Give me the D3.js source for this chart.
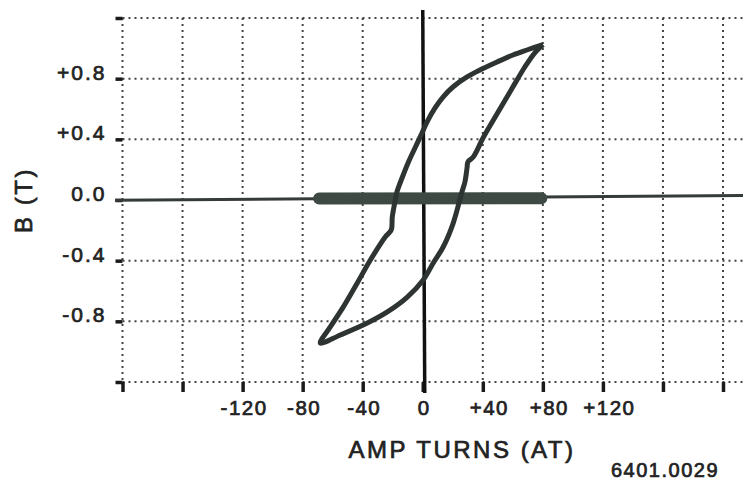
<!DOCTYPE html>
<html>
<head>
<meta charset="utf-8">
<script src="https://cdn.jsdelivr.net/npm/d3@7"></script>
<style>
  body { margin: 0; background: #fff; }
  svg { display: block; }
  text { font-family: "Liberation Sans", Arial, Helvetica, sans-serif; }
</style>
</head>
<body>
<div id="chart"></div>
<script>
// hysteresis loop (AT, tesla)
var upperAT = [80.1, 69.4, 60.1, 49.5, 38.1, 29.5, 20.1, 13.5, 8.2, 2.8, -0.5, -5.2, -9.8, -13.8, -17.2, -18.3, -20.3, -21.0, -25.0, -34.9, -43.6, -52.9, -61.6, -68.2];
var upperB  = [1.025, 0.989, 0.956, 0.910, 0.857, 0.811, 0.745, 0.679, 0.607, 0.514, 0.442, 0.343, 0.244, 0.145, 0.053, 0.0, -0.112, -0.198, -0.244, -0.396, -0.547, -0.705, -0.837, -0.943];
var lowerAT = [-68.2, -54.9, -36.9, -23.6, -10.3, 0.3, 7.0, 13.6, 20.3, 26.1, 28.1, 29.5, 30.1, 33.6, 40.5, 51.0, 60.0, 68.0, 74.5, 80.1];
var lowerB  = [-0.943, -0.890, -0.811, -0.738, -0.640, -0.527, -0.415, -0.310, -0.152, 0.053, 0.119, 0.211, 0.251, 0.283, 0.415, 0.593, 0.745, 0.877, 0.969, 1.025];

// flat trace along B = 0 (thin full width, heavy band in the middle)
var traceAT = [-205, 214];
var traceB  = [-0.002, 0.03];
var bandAT  = [-69, 79];
var bandB   = [0.01, 0.012];

var xTicks = [-200, -160, -120, -80, -40, 0, 40, 80, 120, 160, 200];
var xTickLabels = ["", "", "-120", "-80", "-40", "0", "+40", "+80", "+120", "", ""];
var yTicks = [-1.2, -0.8, -0.4, 0, 0.4, 0.8, 1.2];
var yTickLabels = ["", "-0.8", "-0.4", "0.0", "+0.4", "+0.8", ""];

var width = 743, height = 482;
var ink = "#222";

var svg = d3.select("#chart").append("svg")
    .attr("width", width)
    .attr("height", height);

var x = d3.scaleLinear().domain([-200, 200]).range([122.5, 723]);
var y = d3.scaleLinear().domain([-1.2, 1.2]).range([382, 18]);

// scanned type is a bit heavier than regular Helvetica
function heavy(sel, size, spacing) {
    sel.style("font-size", size + "px")
        .style("letter-spacing", spacing + "px")
        .attr("fill", ink)
        .attr("stroke", ink)
        .attr("stroke-width", 0.7);
}

// dotted grid
svg.append("g").selectAll("line")
    .data(xTicks.filter(function (d) { return d !== 0; }))
    .enter().append("line")
    .attr("x1", function (d) { return x(d); })
    .attr("x2", function (d) { return x(d); })
    .attr("y1", y(1.2))
    .attr("y2", y(-1.2))
    .attr("stroke", "#444")
    .attr("stroke-width", 2)
    .attr("stroke-dasharray", "2,4");

svg.append("g").selectAll("line")
    .data(yTicks.filter(function (d) { return d !== 0; }))
    .enter().append("line")
    .attr("x1", x(-200))
    .attr("x2", width)
    .attr("y1", function (d) { return y(d); })
    .attr("y2", function (d) { return y(d); })
    .attr("stroke", "#444")
    .attr("stroke-width", 2)
    .attr("stroke-dasharray", "2,4");

// axes
var xAxis = svg.append("g")
    .attr("transform", "translate(0," + y(-1.2) + ")")
    .call(d3.axisBottom(x).tickValues(xTicks).tickSize(10).tickPadding(8)
        .tickFormat(function (d, i) { return xTickLabels[i]; }));
xAxis.select(".domain").remove();
xAxis.selectAll("line").attr("stroke", "#1b1b1b").attr("stroke-width", 3.5);
xAxis.selectAll("text").call(heavy, 20.5, 1.5)
    .attr("dx", function (d) { return d > 0 ? 6 : 1; });

var yAxis = svg.append("g")
    .attr("transform", "translate(" + x(-200) + ",0)")
    .call(d3.axisLeft(y).tickValues(yTicks).tickSize(7).tickPadding(9)
        .tickFormat(function (d, i) { return yTickLabels[i]; }));
yAxis.select(".domain").remove();
yAxis.selectAll("line").attr("stroke", "#1b1b1b").attr("stroke-width", 3.5);
yAxis.selectAll("text").call(heavy, 21, 2).attr("dy", "0.02em");

// vertical zero line
svg.append("line")
    .attr("x1", x(0)).attr("x2", x(0) + 2)
    .attr("y1", y(1.2) - 8).attr("y2", y(-1.2) + 11)
    .attr("stroke", "#111")
    .attr("stroke-width", 3.5);

var line = d3.line()
    .x(function (d) { return x(d[0]); })
    .y(function (d) { return y(d[1]); });

svg.append("path")
    .datum(d3.zip(traceAT, traceB))
    .attr("fill", "none")
    .attr("stroke", "#353b37")
    .attr("stroke-width", 3)
    .attr("d", line);

svg.append("path")
    .datum(d3.zip(bandAT, bandB))
    .attr("fill", "none")
    .attr("stroke", "#3e4944")
    .attr("stroke-width", 12)
    .attr("stroke-linecap", "round")
    .attr("d", line);

svg.append("path")
    .datum(d3.zip(upperAT, upperB).concat(d3.zip(lowerAT, lowerB).slice(1)))
    .attr("fill", "none")
    .attr("stroke", "#2e3431")
    .attr("stroke-width", 5)
    .attr("stroke-linejoin", "round")
    .attr("d", line.curve(d3.curveCatmullRom.alpha(0.5)));

// titles
svg.append("text")
    .attr("x", 462)
    .attr("y", 458)
    .attr("text-anchor", "middle")
    .call(heavy, 24, 2.5)
    .text("AMP TURNS (AT)");

svg.append("text")
    .attr("transform", "translate(32,200) rotate(-90)")
    .attr("text-anchor", "middle")
    .call(heavy, 24, 2.5)
    .text("B (T)");

svg.append("text")
    .attr("x", 665)
    .attr("y", 477)
    .attr("text-anchor", "middle")
    .call(heavy, 20, 1.5)
    .text("6401.0029");
</script>
</body>
</html>
